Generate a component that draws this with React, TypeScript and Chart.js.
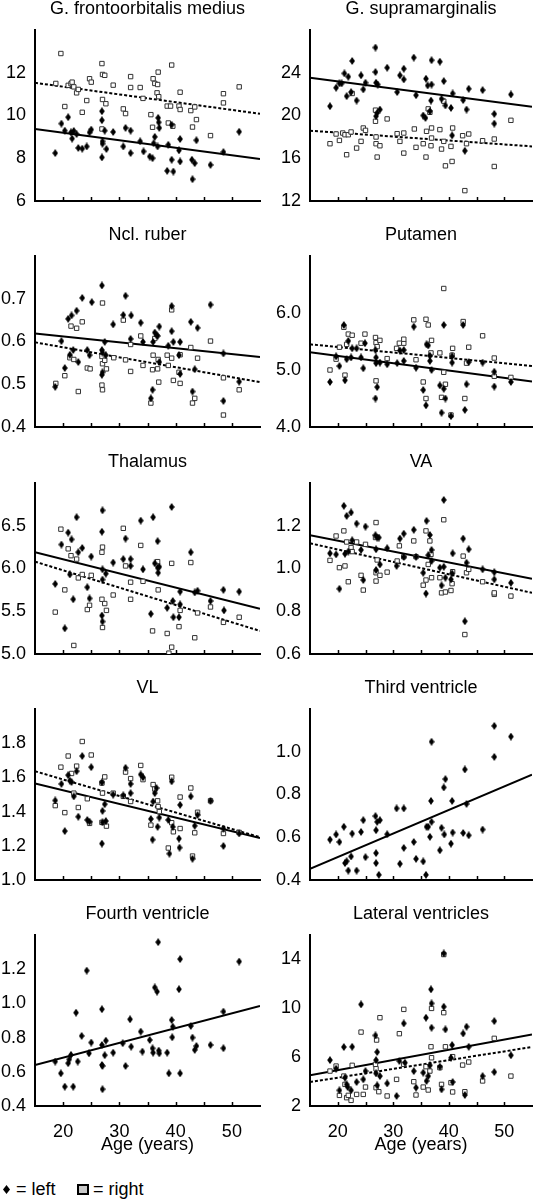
import React, { useEffect, useRef } from "react";
import { Chart, registerables } from "chart.js";
Chart.register(...registerables);

type Pt = [number, number];

const FONT = "'Liberation Sans', Arial, sans-serif";
const AGE_MIN = 15;
const AGE_MAX = 55;
const xLabelTicks = [20, 30, 40, 50];
const xMinorTicks = [20, 25, 30, 35, 40, 45, 50];
const lineAges = [15, 55];
const xAxisTitle = "Age (years)";

// ---- G. frontoorbitalis medius ----
const gfmLeft: Pt[] = [[18.6,8.24],[19.7,9.62],[20.3,9.29],[20.9,9.92],[21.4,9.21],[21.6,8.92],[21.9,9.28],[22.4,9.13],[22.7,8.48],[23.4,8.45],[24.2,8.55],[24.7,9.21],[25.0,9.34],[26.9,10.2],[26.9,9.78],[27.0,8.79],[27.0,8.68],[26.9,8.04],[27.4,9.29],[27.7,8.43],[28.9,9.23],[30.7,8.55],[31.1,9.42],[32.0,9.29],[32.0,8.24],[33.7,8.79],[34.3,8.32],[35.4,8.08],[35.9,8.0],[36.1,8.7],[36.3,9.0],[36.8,8.55],[36.9,9.89],[37.0,9.68],[37.1,9.42],[38.7,8.63],[38.5,7.41],[39.3,7.93],[39.3,9.57],[39.6,7.38],[40.6,8.37],[40.8,7.85],[40.8,8.9],[42.9,7.93],[43.4,7.77],[43.7,8.84],[43.0,7.02],[46.2,7.69],[48.5,8.29],[51.3,9.24]];
const gfmRight: Pt[] = [[18.7,11.5],[19.6,12.9],[20.3,10.42],[20.9,11.41],[21.4,11.49],[21.6,11.56],[21.9,11.34],[22.4,11.06],[22.7,11.22],[23.4,10.15],[24.2,10.7],[24.7,11.72],[25.0,11.56],[26.9,12.43],[27.0,11.92],[27.4,11.88],[27.0,10.75],[27.6,10.55],[26.9,9.37],[28.9,11.42],[30.7,10.31],[31.1,10.09],[32.0,11.82],[32.0,11.31],[33.7,11.31],[34.2,10.8],[35.6,10.04],[35.9,9.45],[36.0,11.72],[36.3,11.5],[36.8,11.45],[36.9,12.03],[36.7,11.06],[37.0,10.88],[38.5,10.44],[38.7,9.65],[39.1,10.44],[39.3,12.36],[39.5,9.5],[40.6,10.44],[40.8,10.28],[40.8,11.09],[42.7,10.23],[43.0,9.46],[43.4,10.4],[43.7,9.81],[46.2,9.06],[48.5,10.59],[48.5,11.02],[51.3,11.34]];
const gfmLineLeft = [9.37, 7.96];
const gfmLineRight = [11.53, 10.08];
const gfmTicks = ["6", "8", "10", "12"];

// ---- G. supramarginalis ----
const gsmLeft: Pt[] = [[18.6,20.87],[19.7,22.6],[20.3,23.0],[20.7,23.0],[21.2,23.94],[21.6,21.81],[21.9,23.63],[22.4,22.19],[22.6,25.1],[23.4,21.4],[24.2,23.76],[24.6,22.44],[25.0,23.07],[26.8,26.36],[26.8,24.07],[26.9,23.07],[27.2,22.9],[27.1,20.24],[26.9,19.93],[27.6,20.56],[28.9,24.47],[30.7,22.19],[31.2,23.76],[31.9,24.38],[31.9,23.38],[33.7,25.42],[34.1,21.9],[35.4,20.0],[35.8,19.77],[35.9,23.44],[36.2,22.81],[36.9,25.17],[36.9,22.9],[36.8,21.4],[36.6,20.4],[38.4,25.04],[38.7,21.56],[39.1,23.22],[39.4,20.94],[40.4,20.71],[40.7,22.06],[40.6,18.14],[42.6,21.44],[42.9,16.7],[43.2,20.56],[43.6,22.5],[46.1,22.38],[48.2,20.15],[48.2,19.24],[51.2,21.97]];
const gsmRight: Pt[] = [[18.6,17.36],[19.7,18.27],[20.3,17.67],[20.9,18.36],[21.3,18.2],[21.6,16.33],[21.9,18.2],[22.4,18.46],[22.6,22.06],[23.4,16.95],[24.2,17.58],[24.6,18.83],[25.0,18.61],[26.8,20.5],[26.8,19.46],[26.9,17.99],[26.9,17.36],[27.1,16.11],[27.6,17.17],[28.9,19.68],[30.7,18.3],[31.2,17.58],[31.9,18.36],[31.9,16.48],[33.8,18.74],[34.1,17.02],[35.4,17.36],[35.9,16.11],[36.0,18.52],[36.3,20.62],[36.6,20.3],[36.8,17.17],[36.9,18.83],[36.9,17.89],[38.4,18.68],[38.7,16.86],[39.1,17.58],[39.4,15.29],[39.1,21.34],[40.4,17.11],[40.7,18.83],[40.6,15.7],[42.5,18.11],[42.9,12.97],[43.2,17.36],[43.6,18.27],[46.1,17.64],[48.2,17.8],[48.2,15.23],[51.2,19.55]];
const gsmLineLeft = [23.54, 20.81];
const gsmLineRight = [18.58, 17.11];
const gsmTicks = ["12", "16", "20", "24"];

// ---- Ncl. ruber ----
const nrLeft: Pt[] = [[18.6,0.494],[19.7,0.601],[20.3,0.538],[20.9,0.653],[21.2,0.569],[21.5,0.661],[21.8,0.58],[22.4,0.672],[22.7,0.552],[23.4,0.702],[24.3,0.58],[24.7,0.568],[25.1,0.692],[26.9,0.731],[26.9,0.58],[27.0,0.574],[27.0,0.528],[26.9,0.522],[27.4,0.599],[27.6,0.568],[28.9,0.64],[30.7,0.662],[31.1,0.707],[32.1,0.661],[32.0,0.606],[33.8,0.644],[34.2,0.599],[35.6,0.467],[35.9,0.487],[36.0,0.599],[36.3,0.621],[36.6,0.615],[36.8,0.613],[37.1,0.635],[37.1,0.552],[38.7,0.59],[39.3,0.683],[39.3,0.624],[39.6,0.599],[40.6,0.568],[40.8,0.599],[40.8,0.524],[42.7,0.646],[43.0,0.483],[43.4,0.535],[43.9,0.632],[46.2,0.686],[48.5,0.572],[48.5,0.461],[51.3,0.506]];
const nrRight: Pt[] = [[18.7,0.502],[20.3,0.52],[21.4,0.636],[21.2,0.562],[21.9,0.558],[22.4,0.631],[22.7,0.483],[23.4,0.646],[24.3,0.538],[24.8,0.536],[26.9,0.565],[27.0,0.548],[27.0,0.69],[26.9,0.498],[27.0,0.487],[27.4,0.556],[27.7,0.536],[29.0,0.562],[30.7,0.65],[31.1,0.557],[32.0,0.53],[32.0,0.593],[33.8,0.613],[34.2,0.544],[35.6,0.456],[35.9,0.534],[36.0,0.568],[36.3,0.607],[36.8,0.536],[36.9,0.558],[37.0,0.505],[38.5,0.568],[38.7,0.544],[39.3,0.561],[39.3,0.674],[39.6,0.509],[40.6,0.528],[40.8,0.569],[40.8,0.502],[42.7,0.586],[43.0,0.456],[43.4,0.467],[43.9,0.561],[46.2,0.601],[48.5,0.515],[48.5,0.428],[51.3,0.487]];
const nrLineLeft = [0.619, 0.564];
const nrLineRight = [0.598, 0.505];
const nrTicks = ["0.4", "0.5", "0.6", "0.7"];

// ---- Putamen ----
const putLeft: Pt[] = [[18.6,4.79],[19.7,5.24],[20.3,5.07],[21.1,5.79],[21.3,4.82],[21.6,5.19],[21.9,5.51],[22.4,5.22],[22.6,5.38],[23.4,5.38],[24.2,5.22],[24.6,5.03],[24.9,5.47],[26.8,5.35],[26.9,5.22],[26.9,5.12],[27.1,4.7],[26.8,4.5],[27.6,5.13],[28.9,5.1],[30.7,5.12],[31.2,5.34],[31.9,5.16],[31.9,5.35],[33.7,5.76],[34.1,5.04],[35.4,4.65],[35.9,4.38],[36.0,5.45],[36.3,5.43],[36.6,5.25],[36.6,5.16],[36.9,5.0],[38.4,4.73],[38.7,4.25],[39.1,5.79],[39.1,4.67],[39.4,4.5],[40.4,4.19],[40.6,5.13],[40.6,5.24],[42.6,5.79],[42.9,4.3],[43.2,4.75],[43.6,5.14],[46.1,5.13],[48.2,4.97],[48.2,4.71],[51.2,4.79]];
const putRight: Pt[] = [[18.6,5.0],[19.7,5.19],[20.3,5.4],[21.1,5.75],[21.3,4.91],[21.6,5.45],[21.9,5.63],[22.6,5.61],[24.2,5.47],[24.9,5.63],[26.8,5.57],[26.9,5.48],[27.1,5.41],[26.9,4.81],[27.6,5.52],[28.9,5.2],[30.6,5.38],[31.1,5.47],[31.9,5.47],[31.9,5.54],[33.7,5.88],[34.1,5.18],[35.4,4.79],[35.9,4.5],[35.9,5.89],[36.3,5.79],[36.9,5.52],[36.8,5.3],[38.4,5.3],[38.7,4.52],[39.1,6.43],[39.1,4.96],[39.4,4.75],[40.4,4.21],[40.7,5.38],[40.6,5.26],[42.6,5.85],[42.9,4.5],[43.2,5.12],[43.6,5.4],[46.1,5.6],[48.2,5.21],[48.2,4.89],[51.2,4.87]];
const putLineLeft = [5.31, 4.8];
const putLineRight = [5.45, 5.07];
const putTicks = ["4.0", "5.0", "6.0"];

// ---- Thalamus ----
const thLeft: Pt[] = [[18.6,5.82],[19.7,6.28],[20.3,5.3],[20.9,6.42],[21.2,5.93],[21.5,6.34],[21.8,5.64],[22.4,6.6],[22.7,6.19],[23.4,6.24],[24.3,5.78],[24.7,5.65],[25.0,6.14],[27.0,6.68],[26.9,6.43],[27.0,5.99],[27.0,5.87],[26.9,5.45],[27.0,5.38],[27.6,5.94],[28.9,6.07],[30.7,6.11],[31.1,6.35],[32.0,6.11],[32.0,6.03],[33.8,6.56],[34.2,5.99],[35.6,5.47],[36.0,6.6],[36.3,6.06],[36.8,6.32],[36.8,6.01],[36.9,5.95],[37.1,6.02],[38.5,5.54],[39.3,6.72],[39.5,5.62],[39.6,5.43],[40.6,5.43],[40.8,5.73],[40.8,5.58],[42.7,6.19],[43.4,5.72],[43.9,5.74],[46.2,5.62],[48.5,5.75],[48.6,5.51],[51.3,5.73]];
const thRight: Pt[] = [[18.6,5.49],[19.6,6.46],[20.3,5.75],[20.9,6.23],[21.4,6.15],[21.9,5.1],[22.4,6.11],[22.7,5.89],[23.4,5.93],[24.3,5.52],[24.7,5.57],[25.0,5.92],[27.0,6.25],[26.9,6.19],[26.9,5.64],[27.4,5.59],[27.7,5.51],[27.0,5.31],[28.9,5.69],[30.7,6.47],[31.1,6.03],[32.0,5.84],[32.0,5.64],[33.8,6.27],[34.2,5.85],[35.9,5.27],[36.8,6.08],[36.9,5.75],[38.5,5.24],[38.8,5.01],[39.3,5.08],[39.3,6.06],[40.6,5.32],[40.8,5.51],[42.7,6.07],[43.4,5.19],[43.9,5.48],[46.2,5.55],[48.5,5.37],[51.3,5.43]];
const thLineLeft = [6.19, 5.53];
const thLineRight = [6.08, 5.27];
const thTicks = ["5.0", "5.5", "6.0", "6.5"];

// ---- VA ----
const vaLeft: Pt[] = [[18.6,1.071],[19.7,1.066],[20.3,0.905],[21.1,1.293],[21.3,1.069],[21.6,1.246],[21.9,1.079],[22.4,1.262],[22.6,1.132],[23.4,1.21],[24.2,1.087],[24.6,0.946],[25.0,1.196],[26.8,1.156],[26.9,0.993],[27.1,1.145],[27.4,1.145],[26.9,1.09],[27.6,1.019],[28.9,1.095],[30.6,1.012],[31.2,1.14],[31.9,1.163],[31.9,1.054],[33.7,1.181],[34.1,1.055],[35.4,0.98],[35.9,0.883],[36.0,1.223],[36.3,1.062],[36.6,1.157],[36.9,1.087],[36.9,1.035],[38.4,1.004],[38.7,0.921],[39.1,1.321],[39.1,1.008],[39.4,0.957],[40.4,0.949],[40.6,0.977],[40.7,1.071],[42.6,1.14],[42.9,0.753],[43.2,1.027],[43.6,1.09],[46.1,0.996],[48.2,0.983],[48.2,0.949],[51.2,0.933]];
const vaRight: Pt[] = [[18.6,1.038],[19.7,1.152],[20.3,1.004],[21.1,1.176],[21.3,1.012],[21.6,1.124],[21.9,0.938],[22.4,1.098],[22.6,1.079],[23.4,1.124],[24.2,0.968],[24.6,0.899],[25.0,1.113],[26.9,1.215],[26.8,1.145],[27.1,1.04],[26.9,0.98],[26.9,0.941],[27.6,0.968],[28.9,0.983],[30.7,1.035],[31.1,1.106],[31.9,1.055],[33.7,1.129],[34.1,1.055],[35.4,0.922],[35.9,0.946],[35.9,1.176],[36.3,1.019],[36.6,1.129],[36.9,0.957],[36.8,1.066],[38.4,0.957],[38.7,0.886],[39.1,1.228],[39.4,0.89],[40.4,0.897],[40.6,0.929],[40.7,0.985],[42.6,1.058],[42.9,0.691],[43.2,0.98],[43.6,0.996],[46.1,0.938],[48.2,0.879],[48.2,0.886],[51.2,0.871]];
const vaLineLeft = [1.156, 0.952];
const vaLineRight = [1.118, 0.886];
const vaTicks = ["0.6", "0.8", "1.0", "1.2"];

// ---- VL ----
const vlLeft: Pt[] = [[18.6,1.465],[19.7,1.562],[20.3,1.286],[20.9,1.613],[21.2,1.581],[21.5,1.573],[21.9,1.489],[22.4,1.636],[22.7,1.37],[23.4,1.725],[24.3,1.351],[24.7,1.341],[25.0,1.66],[26.9,1.571],[27.0,1.404],[27.0,1.337],[26.9,1.213],[27.4,1.443],[27.6,1.345],[28.9,1.499],[30.7,1.495],[31.1,1.656],[32.0,1.562],[32.0,1.508],[33.8,1.617],[34.2,1.601],[35.6,1.357],[35.9,1.236],[36.0,1.459],[36.3,1.508],[36.6,1.538],[36.8,1.311],[37.1,1.365],[38.7,1.351],[38.9,1.154],[39.3,1.577],[39.5,1.311],[40.6,1.242],[40.8,1.439],[40.7,1.189],[42.7,1.489],[43.0,1.124],[43.4,1.317],[43.9,1.38],[46.2,1.463],[48.5,1.199],[48.5,1.301],[51.3,1.272]];
const vlRight: Pt[] = [[18.6,1.435],[19.6,1.66],[20.3,1.394],[20.9,1.725],[21.5,1.623],[21.9,1.508],[22.4,1.666],[22.7,1.424],[23.4,1.81],[24.3,1.475],[24.7,1.331],[25.0,1.731],[26.9,1.567],[27.0,1.508],[26.9,1.337],[27.4,1.603],[27.7,1.315],[28.9,1.508],[30.7,1.489],[31.1,1.631],[32.0,1.593],[32.0,1.459],[33.8,1.67],[34.2,1.587],[35.6,1.321],[36.0,1.558],[36.3,1.532],[36.8,1.463],[36.9,1.429],[37.1,1.4],[38.7,1.187],[39.3,1.601],[39.3,1.335],[39.6,1.282],[40.8,1.485],[40.8,1.301],[42.7,1.538],[43.0,1.14],[43.4,1.276],[43.9,1.396],[46.2,1.463],[48.5,1.272],[51.3,1.278]];
const vlLineLeft = [1.564, 1.246];
const vlLineRight = [1.636, 1.25];
const vlTicks = ["1.0", "1.2", "1.4", "1.6", "1.8"];

// ---- Third ventricle ----
const tvLeft: Pt[] = [[18.6,0.589],[19.7,0.613],[20.3,0.578],[21.1,0.649],[21.3,0.479],[21.6,0.488],[21.9,0.444],[22.4,0.51],[22.6,0.617],[23.4,0.444],[24.2,0.625],[24.6,0.68],[25.0,0.507],[26.8,0.699],[26.9,0.526],[26.9,0.633],[27.1,0.672],[26.9,0.479],[27.4,0.424],[27.6,0.68],[28.9,0.614],[30.6,0.735],[31.2,0.476],[31.9,0.735],[31.9,0.55],[33.7,0.578],[34.1,0.499],[35.4,0.487],[35.9,0.424],[36.0,0.649],[36.3,0.649],[36.6,0.602],[36.8,0.77],[36.9,1.047],[36.9,0.672],[38.4,0.539],[38.7,0.644],[39.1,0.833],[39.4,0.872],[39.2,0.613],[40.4,0.57],[40.6,0.77],[40.7,0.622],[42.6,0.62],[42.9,0.917],[43.2,0.756],[43.6,0.609],[46.1,0.636],[48.2,0.976],[48.2,1.121],[51.2,1.071]];
const tvLineLeft = [0.452, 0.893];
const tvTicks = ["0.4", "0.6", "0.8", "1.0"];

// ---- Fourth ventricle ----
const fvLeft: Pt[] = [[18.6,0.66],[19.6,0.591],[20.3,0.513],[20.9,0.65],[21.1,0.673],[21.4,0.699],[21.8,0.513],[22.3,0.946],[22.6,0.66],[23.3,0.81],[24.2,1.192],[24.6,0.708],[25.0,0.771],[26.9,0.966],[26.9,0.757],[26.9,0.64],[27.0,0.634],[27.0,0.498],[27.4,0.697],[27.6,0.782],[28.9,0.712],[30.6,0.767],[31.1,0.634],[31.9,0.907],[32.1,0.747],[33.8,0.835],[34.1,0.718],[35.4,0.786],[35.9,0.737],[36.0,0.712],[36.3,1.093],[36.7,1.069],[36.9,1.358],[37.0,0.724],[37.1,0.708],[38.5,0.712],[38.8,0.591],[39.3,0.903],[39.4,0.802],[39.5,0.864],[40.6,1.083],[40.8,1.259],[40.8,0.591],[42.7,0.868],[43.0,0.8],[43.4,0.728],[43.7,0.751],[46.2,0.757],[48.5,0.952],[48.5,0.738],[51.3,1.245]];
const fvLineLeft = [0.64, 0.985];
const fvTicks = ["0.4", "0.6", "0.8", "1.0", "1.2"];

// ---- Lateral ventricles ----
const lvLeft: Pt[] = [[18.6,5.76],[19.7,5.05],[20.3,3.28],[21.1,6.83],[21.3,4.32],[21.6,3.77],[21.8,3.55],[22.4,3.28],[22.6,6.85],[23.4,3.96],[24.2,10.32],[24.6,4.18],[25.0,4.86],[26.8,7.78],[26.9,5.76],[27.1,6.42],[26.9,4.67],[27.1,3.69],[27.6,4.45],[28.9,3.85],[30.6,2.82],[31.1,5.68],[31.9,8.76],[32.1,5.55],[33.7,4.86],[34.1,3.5],[35.4,4.73],[35.9,9.23],[36.0,4.05],[36.3,4.45],[36.6,5.33],[36.8,11.55],[36.9,10.4],[36.9,8.41],[38.4,5.22],[38.7,3.36],[39.1,14.49],[39.1,10.13],[39.4,8.27],[40.4,5.95],[40.6,6.99],[40.7,3.96],[42.6,7.94],[42.9,2.9],[43.2,8.49],[43.6,6.85],[46.1,4.45],[48.2,8.95],[48.2,4.78],[51.2,6.15]];
const lvRight: Pt[] = [[18.6,4.86],[19.7,5.27],[20.3,2.87],[21.1,4.45],[21.3,3.77],[21.6,2.68],[21.9,2.87],[22.4,2.46],[22.6,5.33],[23.4,2.95],[24.2,8.05],[24.6,2.95],[25.0,3.55],[26.8,5.41],[26.9,5.05],[27.0,7.4],[26.9,3.5],[27.4,3.17],[27.6,9.23],[28.9,2.82],[30.6,4.18],[31.1,7.92],[31.9,9.91],[31.9,5.41],[33.7,3.99],[34.1,2.9],[35.4,3.55],[35.9,5.22],[36.3,3.31],[36.6,4.86],[36.8,6.85],[36.9,9.99],[36.9,5.95],[38.4,5.14],[38.7,3.77],[39.1,9.64],[39.4,6.85],[40.4,3.91],[40.7,6.04],[40.7,3.15],[42.5,5.35],[42.9,3.17],[43.6,5.6],[46.1,4.05],[48.2,7.54],[51.2,4.45],[39.1,14.4]];
const lvLineLeft = [4.51, 7.86];
const lvLineRight = [3.96, 6.83];
const lvTicks = ["2", "6", "10", "14"];

type PanelDef = {
  title: string;
  yMin: number;
  yMax: number;
  ticks: string[];
  left: Pt[];
  right: Pt[] | null;
  lineLeft: number[];
  lineRight: number[] | null;
};

const panels: PanelDef[] = [
  { title: "G. frontoorbitalis medius", yMin: 6, yMax: 14, ticks: gfmTicks, left: gfmLeft, right: gfmRight, lineLeft: gfmLineLeft, lineRight: gfmLineRight },
  { title: "G. supramarginalis", yMin: 12, yMax: 28, ticks: gsmTicks, left: gsmLeft, right: gsmRight, lineLeft: gsmLineLeft, lineRight: gsmLineRight },
  { title: "Ncl. ruber", yMin: 0.4, yMax: 0.8, ticks: nrTicks, left: nrLeft, right: nrRight, lineLeft: nrLineLeft, lineRight: nrLineRight },
  { title: "Putamen", yMin: 4, yMax: 7, ticks: putTicks, left: putLeft, right: putRight, lineLeft: putLineLeft, lineRight: putLineRight },
  { title: "Thalamus", yMin: 5, yMax: 7, ticks: thTicks, left: thLeft, right: thRight, lineLeft: thLineLeft, lineRight: thLineRight },
  { title: "VA", yMin: 0.6, yMax: 1.4, ticks: vaTicks, left: vaLeft, right: vaRight, lineLeft: vaLineLeft, lineRight: vaLineRight },
  { title: "VL", yMin: 1.0, yMax: 2.0, ticks: vlTicks, left: vlLeft, right: vlRight, lineLeft: vlLineLeft, lineRight: vlLineRight },
  { title: "Third ventricle", yMin: 0.4, yMax: 1.2, ticks: tvTicks, left: tvLeft, right: null, lineLeft: tvLineLeft, lineRight: null },
  { title: "Fourth ventricle", yMin: 0.4, yMax: 1.4, ticks: fvTicks, left: fvLeft, right: null, lineLeft: fvLineLeft, lineRight: null },
  { title: "Lateral ventricles", yMin: 2, yMax: 16, ticks: lvTicks, left: lvLeft, right: lvRight, lineLeft: lvLineLeft, lineRight: lvLineRight },
];

function makeDiamond(): HTMLCanvasElement {
  const c = document.createElement("canvas");
  c.width = 6;
  c.height = 8;
  const g = c.getContext("2d")!;
  g.fillStyle = "#000";
  g.beginPath();
  g.moveTo(3, 0);
  g.lineTo(5.8, 4);
  g.lineTo(3, 8);
  g.lineTo(0.2, 4);
  g.closePath();
  g.fill();
  return c;
}

const innerTicks = {
  id: "innerTicks",
  afterDraw(chart: any) {
    const xs = chart.scales.x;
    const ctx = chart.ctx;
    const bottom = chart.chartArea.bottom;
    ctx.save();
    ctx.strokeStyle = "#000";
    ctx.lineWidth = 1.5;
    xMinorTicks.forEach((v) => {
      const px = Math.round(xs.getPixelForValue(v)) + 0.5;
      ctx.beginPath();
      ctx.moveTo(px, bottom);
      ctx.lineTo(px, bottom - 4);
      ctx.stroke();
    });
    ctx.restore();
  },
};

function Panel({ def, index }: { def: PanelDef; index: number }) {
  const ref = useRef<HTMLCanvasElement | null>(null);
  const col = index % 2;
  const row = Math.floor(index / 2);
  const isBottom = row === 4;
  const width = col === 0 ? 268 : 269;
  const height = isBottom ? 255 : 226;
  const top = Math.round(row * 226.25);
  const left = col === 0 ? 0 : 268;

  useEffect(() => {
    if (!ref.current) return;
    const diamond = makeDiamond();
    const tickVals = def.ticks.map((t) => parseFloat(t));
    const font = { family: FONT, size: 18 };
    const datasets: any[] = [
      {
        label: "left",
        data: def.left.map(([x, y]) => ({ x, y })),
        pointStyle: diamond,
        pointRadius: 4,
        showLine: false,
        order: 0,
      },
    ];
    if (def.right) {
      datasets.push({
        label: "right",
        data: def.right.map(([x, y]) => ({ x, y })),
        pointStyle: "rect",
        pointRadius: 3.1,
        backgroundColor: "#fff",
        borderColor: "#333",
        borderWidth: 1,
        showLine: false,
        order: 1,
      });
    }
    datasets.push({
      label: "left fit",
      data: lineAges.map((x, i) => ({ x, y: def.lineLeft[i] })),
      showLine: true,
      pointRadius: 0,
      borderColor: "#000",
      borderWidth: 2,
      order: 2,
    });
    if (def.lineRight) {
      datasets.push({
        label: "right fit",
        data: lineAges.map((x, i) => ({ x, y: def.lineRight![i] })),
        showLine: true,
        pointRadius: 0,
        borderColor: "#000",
        borderWidth: 2,
        borderDash: [3, 2],
        order: 3,
      });
    }

    const chart = new Chart(ref.current, {
      type: "scatter",
      data: { datasets },
      plugins: [innerTicks],
      options: {
        animation: false,
        responsive: false,
        devicePixelRatio: 1,
        events: [],
        layout: {
          padding: { top: 0, left: 0, right: col === 0 ? 8 : 0, bottom: isBottom ? 4 : 25 },
        },
        plugins: {
          legend: { display: false },
          tooltip: { enabled: false },
          title: {
            display: true,
            text: def.title,
            fullSize: false,
            color: "#000",
            font: { family: FONT, size: 18, weight: "normal", lineHeight: 1 },
            padding: { top: 0, bottom: 12 },
          },
        },
        scales: {
          x: {
            type: "linear",
            min: AGE_MIN,
            max: AGE_MAX,
            grid: { display: false, drawTicks: false },
            border: { display: true, color: "#000", width: 2 },
            ticks: {
              display: isBottom,
              color: "#000",
              font,
              padding: 15,
              maxRotation: 0,
              autoSkip: false,
            },
            afterBuildTicks: (ax: any) => {
              ax.ticks = xLabelTicks.map((v) => ({ value: v }));
            },
            afterFit: (ax: any) => {
              ax.height = isBottom ? 50 : 0;
            },
            title: {
              display: isBottom,
              text: xAxisTitle,
              color: "#000",
              font: { family: FONT, size: 18, lineHeight: 1.2 },
              padding: 0,
            },
          },
          y: {
            type: "linear",
            min: def.yMin,
            max: def.yMax,
            grid: { display: false, drawTicks: false },
            border: { display: true, color: "#000", width: 2 },
            ticks: {
              color: "#000",
              font,
              padding: 9,
              callback: (_v: any, i: number) => def.ticks[i],
            },
            afterBuildTicks: (ax: any) => {
              ax.ticks = tickVals.map((v) => ({ value: v }));
            },
            afterFit: (ax: any) => {
              ax.width = col === 0 ? 35 : 42;
            },
          },
        },
      } as any,
    });
    return () => chart.destroy();
  }, []);

  return (
    <div style={{ position: "absolute", left, top, width, height }}>
      <canvas ref={ref} width={width} height={height} style={{ display: "block" }} />
    </div>
  );
}

export default function App() {
  const txt: React.CSSProperties = {
    position: "absolute",
    fontFamily: FONT,
    fontSize: 18,
    lineHeight: "18px",
    color: "#000",
    whiteSpace: "pre",
  };
  return (
    <div style={{ position: "absolute", left: 0, top: 0, width: 537, height: 1199, background: "#fff", overflow: "hidden" }}>
      {panels.map((p, i) => (
        <Panel key={i} def={p} index={i} />
      ))}
      <div
        style={{
          position: "absolute",
          left: 3,
          top: 1185,
          width: 7,
          height: 9,
          background: "#000",
          clipPath: "polygon(50% 0, 100% 50%, 50% 100%, 0 50%)",
        }}
      />
      <div style={{ ...txt, left: 16, top: 1180 }}>= left</div>
      <div
        style={{
          position: "absolute",
          left: 77,
          top: 1184,
          width: 8,
          height: 7,
          background: "#c8c8c8",
          border: "2px solid #000",
        }}
      />
      <div style={{ ...txt, left: 93, top: 1180 }}>= right</div>
    </div>
  );
}
